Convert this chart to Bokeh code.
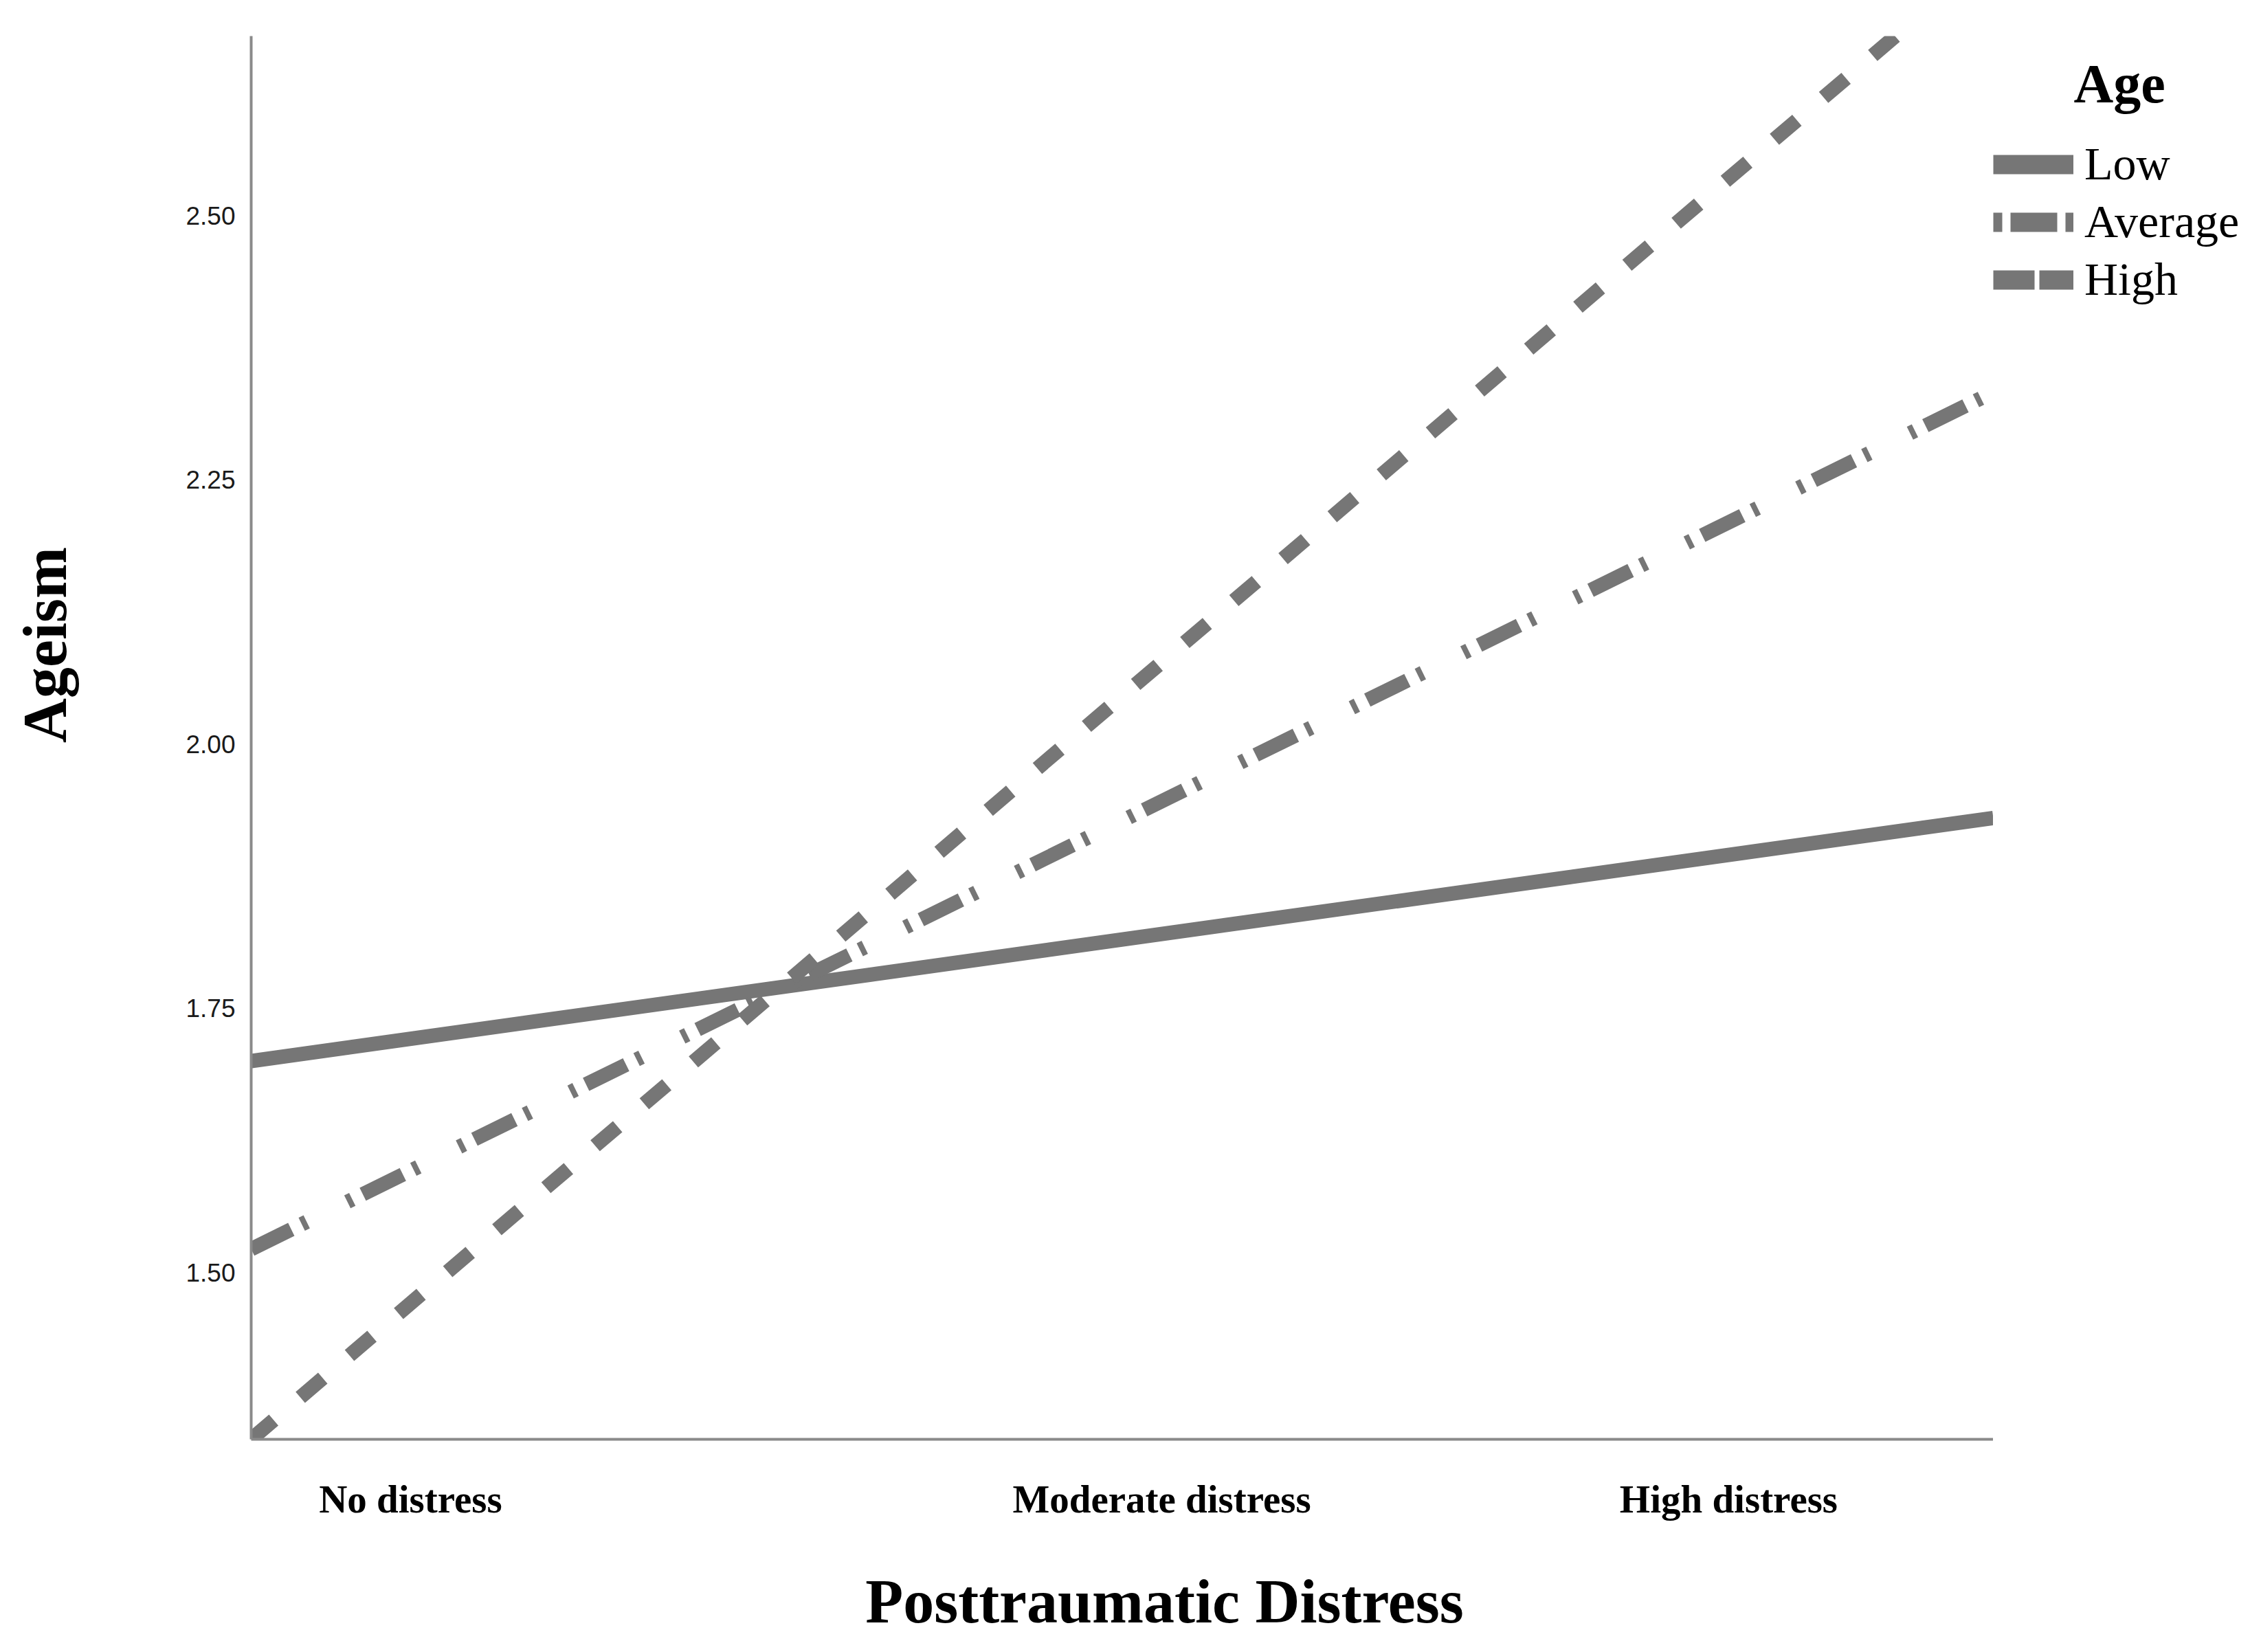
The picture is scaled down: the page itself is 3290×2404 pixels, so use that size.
import numpy as np
from bokeh.plotting import figure
from bokeh.layouts import row, column
from bokeh.models import Range1d, FixedTicker, Legend, LegendItem, Label
from bokeh.embed import file_html
from bokeh.resources import INLINE

# ---------------- data ----------------
# x: posttraumatic distress (normalized from its minimum to its maximum)
x_positions = [0.0, 1.0]
low_age = [1.70, 1.93]
average_age = [1.522, 2.333]
high_age = [1.342, 2.749]
series_names = ["Low", "Average", "High"]

x_tick_positions = [0.0915, 0.5227, 0.8481]
x_tick_labels = ["No distress", "Moderate distress", "High distress"]
y_ticks = [1.50, 1.75, 2.00, 2.25, 2.50]
y_tick_labels = ["1.50", "1.75", "2.00", "2.25", "2.50"]

x_title = "Posttraumatic Distress"
y_title = "Ageism"
legend_title = "Age"

# ---------------- styles / layout (page pixels) ----------------
LINE_COLOR = "#767676"
AXIS_COLOR = "#8a8a8a"
SERIF = "Liberation Serif"
LW = 21

FRAME_TOP, FRAME_BOTTOM = 52, 2094
TOP_H = 2274          # height of the row holding the chart
BOT_H = 122           # strip holding the x title
LEFT_W = 200          # strip holding the y title
MAIN_W = 2700
SIDE_W = 382          # strip holding the legend


def blank(w, h, x0, y0, top=0, bottom=0):
    """Figure whose data units are page pixels (y downward)."""
    f = figure(width=w, height=h, output_backend="svg", toolbar_location=None,
               x_range=Range1d(x0, x0 + w), y_range=Range1d(y0 + h - bottom, y0 + top),
               x_axis_type=None, y_axis_type=None,
               min_border=0, min_border_left=0, min_border_right=0,
               min_border_top=top, min_border_bottom=bottom)
    f.outline_line_color = None
    f.grid.visible = False
    f.background_fill_color = "white"
    f.border_fill_color = "white"
    return f


# ---------------- main chart ----------------
p = figure(width=MAIN_W, height=TOP_H, output_backend="svg", toolbar_location=None,
           x_range=Range1d(0.0, 1.0), y_range=Range1d(1.342, 2.670),
           min_border_left=165, min_border_right=0,
           min_border_top=FRAME_TOP, min_border_bottom=TOP_H - FRAME_BOTTOM)
p.background_fill_color = "white"
p.border_fill_color = "white"
p.outline_line_color = None
p.grid.visible = False

p.xaxis.ticker = FixedTicker(ticks=x_tick_positions)
p.xaxis.major_label_overrides = {t: l for t, l in zip(x_tick_positions, x_tick_labels)}
p.yaxis.ticker = FixedTicker(ticks=y_ticks)
p.yaxis.major_label_overrides = {t: l for t, l in zip(y_ticks, y_tick_labels)}
for ax in (p.xaxis, p.yaxis):
    ax.axis_line_color = AXIS_COLOR
    ax.axis_line_width = 4
    ax.major_tick_line_color = None
    ax.minor_tick_line_color = None
    ax.major_tick_out = 0
    ax.major_tick_in = 0
p.xaxis.major_label_text_font = SERIF
p.xaxis.major_label_text_font_style = "bold"
p.xaxis.major_label_text_font_size = "57px"
p.xaxis.major_label_text_color = "black"
p.xaxis.major_label_standoff = 55
p.yaxis.major_label_text_font = "Liberation Sans"
p.yaxis.major_label_text_font_size = "37px"
p.yaxis.major_label_text_color = "#1a1a1a"
p.yaxis.major_label_standoff = 23

r_low = p.line(x_positions, low_age, line_width=LW, line_color=LINE_COLOR, line_cap="butt")
r_avg = p.line(x_positions, average_age, line_width=LW, line_color=LINE_COLOR, line_cap="butt",
               line_dash="65 17 8 66 8 17")
r_high = p.line(x_positions, high_age, line_width=LW, line_color=LINE_COLOR, line_cap="butt",
                line_dash="43 51")

# ---------------- y title strip ----------------
left = blank(LEFT_W, TOP_H, 0, 0, top=FRAME_TOP, bottom=TOP_H - FRAME_BOTTOM)
left.add_layout(Label(x=65, y=938, text=y_title, angle=1.5707963, text_align="center",
                      text_baseline="middle", text_font=SERIF, text_font_style="bold",
                      text_font_size="90px", text_color="black"))

# ---------------- legend strip ----------------
side = blank(SIDE_W, TOP_H, LEFT_W + MAIN_W, 0, top=FRAME_TOP, bottom=TOP_H - FRAME_BOTTOM)
nan = np.array([np.nan])
k_low = side.line(nan, nan, line_width=28, line_color=LINE_COLOR, line_cap="butt")
k_avg = side.line(nan, nan, line_width=28, line_color=LINE_COLOR, line_cap="butt",
                  line_dash="13 12 68 12 13 200")
k_high = side.line(nan, nan, line_width=28, line_color=LINE_COLOR, line_cap="butt",
                   line_dash="60 7 50 200")
legend = Legend(
    items=[LegendItem(label=n, renderers=[r]) for n, r in zip(series_names, [k_low, k_avg, k_high])],
    location=(0, FRAME_BOTTOM - 446), orientation="vertical",
    glyph_width=117, glyph_height=78, label_height=78, label_standoff=16, spacing=5,
    padding=0, margin=0, border_line_color=None, background_fill_alpha=0,
    label_text_font=SERIF, label_text_font_size="68px", label_text_color="black",
)
side.add_layout(legend, "center")
side.add_layout(Label(x=3017, y=121, text=legend_title, text_align="left",
                      text_baseline="middle", text_font=SERIF, text_font_style="bold",
                      text_font_size="80px", text_color="black"))

# ---------------- x title strip ----------------
bottom = blank(LEFT_W + MAIN_W + SIDE_W, BOT_H, 0, TOP_H)
bottom.add_layout(Label(x=1694, y=2330, text=x_title, text_align="center",
                        text_baseline="middle", text_font=SERIF, text_font_style="bold",
                        text_font_size="90px", text_color="black"))

layout = column(row(left, p, side), bottom)
open("out.html", "w").write(file_html(layout, INLINE))
